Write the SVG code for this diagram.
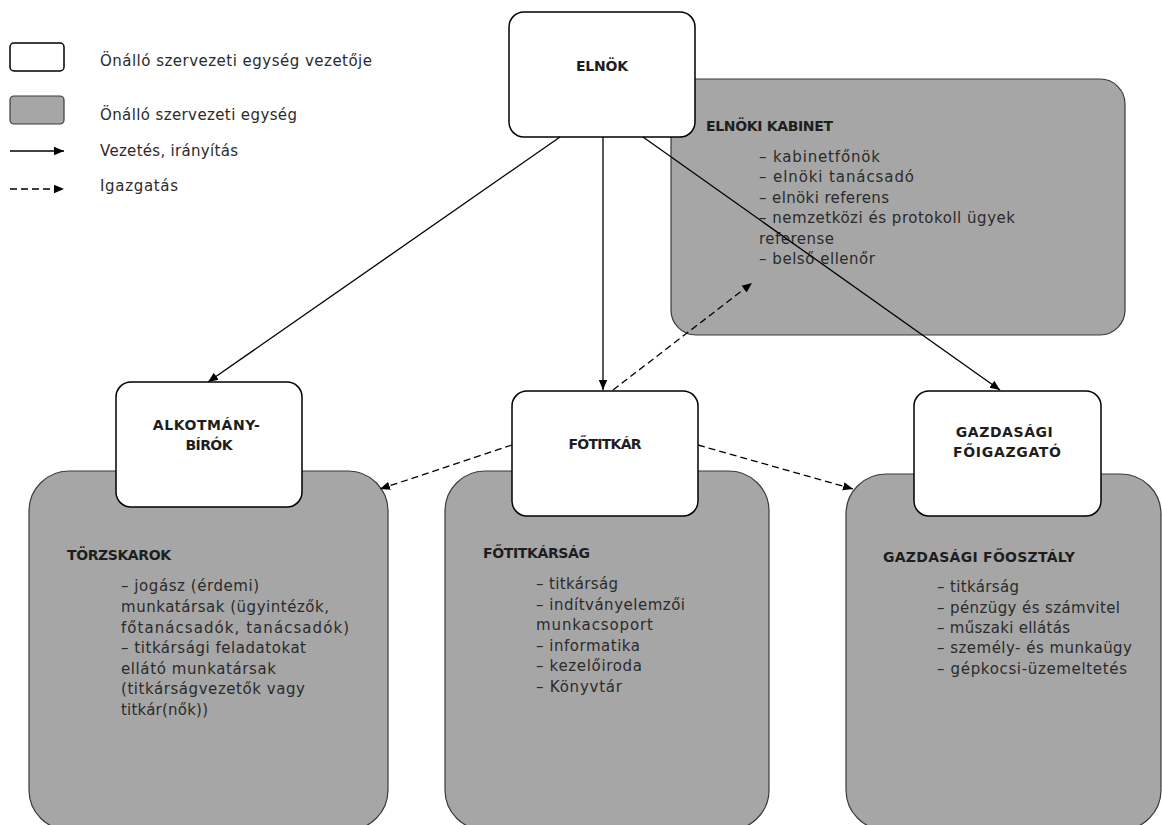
<svg xmlns="http://www.w3.org/2000/svg" width="1162" height="825" viewBox="0 0 1162 825">
<defs>
<style>
.lead{fill:#ffffff;stroke:#000;stroke-width:1.5}
.unit{fill:#a6a6a6;stroke:#3a3a3a;stroke-width:1.2}
.t{font-family:"DejaVu Sans","Liberation Sans",sans-serif;font-size:15px;fill:#2b2b2b}
.b{font-family:"DejaVu Sans","Liberation Sans",sans-serif;font-size:14px;font-weight:bold;fill:#1e1e1e}
.c{text-anchor:middle}
.solid{fill:none;stroke:#000;stroke-width:1.3;marker-end:url(#ah)}
.dash{fill:none;stroke:#000;stroke-width:1.3;stroke-dasharray:7 4;marker-end:url(#ah)}
</style>
<marker id="ah" viewBox="0 0 10 10" refX="10" refY="5" markerWidth="10" markerHeight="10" markerUnits="userSpaceOnUse" orient="auto">
<path d="M0,0.8 L10,5 L0,9.2 Z" fill="#000"/>
</marker>
</defs>
<rect width="1162" height="825" fill="#fff"/>

<g id="legend">
<rect x="10" y="43" width="54" height="28" rx="4" class="lead" stroke-width="1.2"/>
<rect x="10" y="96" width="54" height="28" rx="4" class="unit"/>
<line x1="10" y1="151" x2="64" y2="151" class="solid"/>
<line x1="10" y1="189" x2="64" y2="189" class="dash" stroke-dasharray="5 3"/>
<text x="100" y="66" class="t" textLength="272" lengthAdjust="spacing">Önálló szervezeti egység vezetője</text>
<text x="100" y="120" class="t" textLength="197" lengthAdjust="spacing">Önálló szervezeti egység</text>
<text x="100" y="156" class="t" textLength="138" lengthAdjust="spacing">Vezetés, irányítás</text>
<text x="100" y="191" class="t" textLength="78" lengthAdjust="spacing">Igazgatás</text>
</g>

<g id="kabinet">
<rect x="671" y="79" width="454" height="256" rx="25" class="unit"/>
<text x="706" y="131" class="b" textLength="127" lengthAdjust="spacing">ELNÖKI KABINET</text>
<text class="t" lengthAdjust="spacing">
<tspan x="759" y="162" textLength="121">– kabinetfőnök</tspan>
<tspan x="759" y="182" textLength="155">– elnöki tanácsadó</tspan>
<tspan x="759" y="203" textLength="130">– elnöki referens</tspan>
<tspan x="759" y="223" textLength="256">– nemzetközi és protokoll ügyek</tspan>
<tspan x="759" y="244" textLength="75">referense</tspan>
<tspan x="759" y="264" textLength="116">– belső ellenőr</tspan>
</text>
</g>

<g id="elnok">
<rect x="509" y="12" width="186" height="125" rx="15" class="lead"/>
<text x="602" y="71" class="b c" textLength="52" lengthAdjust="spacing">ELNÖK</text>
</g>

<g id="torzskarok">
<rect x="29" y="471" width="359" height="359" rx="40" class="unit"/>
<text x="67" y="560" class="b" textLength="104" lengthAdjust="spacing">TÖRZSKAROK</text>
<text class="t" lengthAdjust="spacing">
<tspan x="121" y="591" textLength="138">– jogász (érdemi)</tspan>
<tspan x="121" y="612" textLength="208">munkatársak (ügyintézők,</tspan>
<tspan x="121" y="633" textLength="228">főtanácsadók, tanácsadók)</tspan>
<tspan x="121" y="653" textLength="185">– titkársági feladatokat</tspan>
<tspan x="121" y="674" textLength="155">ellátó munkatársak</tspan>
<tspan x="121" y="694" textLength="184">(titkárságvezetők vagy</tspan>
<tspan x="121" y="715" textLength="87">titkár(nők))</tspan>
</text>
</g>

<g id="alkotmanybirok">
<rect x="116" y="382" width="186" height="125" rx="15" class="lead"/>
<text class="b c" lengthAdjust="spacing">
<tspan x="209" y="430" textLength="107">ALKOTMÁNY-</tspan>
<tspan x="209" y="450" textLength="47">BÍRÓK</tspan>
</text>
</g>

<g id="fotitkarsag">
<rect x="445" y="471" width="324" height="359" rx="40" class="unit"/>
<text x="483" y="558" class="b" textLength="107" lengthAdjust="spacing">FŐTITKÁRSÁG</text>
<text class="t" lengthAdjust="spacing">
<tspan x="536" y="589" textLength="82">– titkárság</tspan>
<tspan x="536" y="610" textLength="149">– indítványelemzői</tspan>
<tspan x="536" y="630" textLength="117">munkacsoport</tspan>
<tspan x="536" y="651" textLength="104">– informatika</tspan>
<tspan x="536" y="671" textLength="106">– kezelőiroda</tspan>
<tspan x="536" y="692" textLength="86">– Könyvtár</tspan>
</text>
</g>

<g id="fotitkar">
<rect x="512" y="391" width="186" height="125" rx="15" class="lead"/>
<text x="605" y="449" class="b c" textLength="73" lengthAdjust="spacing">FŐTITKÁR</text>
</g>

<g id="gazdasagi-foosztaly">
<rect x="846" y="474" width="315" height="356" rx="40" class="unit"/>
<text x="883" y="562" class="b" textLength="192" lengthAdjust="spacing">GAZDASÁGI FŐOSZTÁLY</text>
<text class="t" lengthAdjust="spacing">
<tspan x="937" y="592" textLength="82">– titkárság</tspan>
<tspan x="937" y="613" textLength="183">– pénzügy és számvitel</tspan>
<tspan x="937" y="633" textLength="133">– műszaki ellátás</tspan>
<tspan x="937" y="653" textLength="195">– személy- és munkaügy</tspan>
<tspan x="937" y="674" textLength="190">– gépkocsi-üzemeltetés</tspan>
</text>
</g>

<g id="gazdasagi-foigazgato">
<rect x="914" y="391" width="187" height="125" rx="15" class="lead"/>
<text class="b c" lengthAdjust="spacing">
<tspan x="1007" y="437" textLength="97">GAZDASÁGI</tspan>
<tspan x="1007" y="457" textLength="108">FŐIGAZGATÓ</tspan>
</text>
</g>

<g id="connectors">
<line x1="560" y1="137" x2="208" y2="382" class="solid"/>
<line x1="603" y1="137" x2="603" y2="390" class="solid"/>
<line x1="643" y1="137" x2="1000" y2="390" class="solid"/>
<line x1="613" y1="390" x2="752" y2="283" class="dash"/>
<line x1="512" y1="445" x2="380" y2="489" class="dash"/>
<line x1="698" y1="445" x2="853" y2="489" class="dash"/>
</g>
</svg>
